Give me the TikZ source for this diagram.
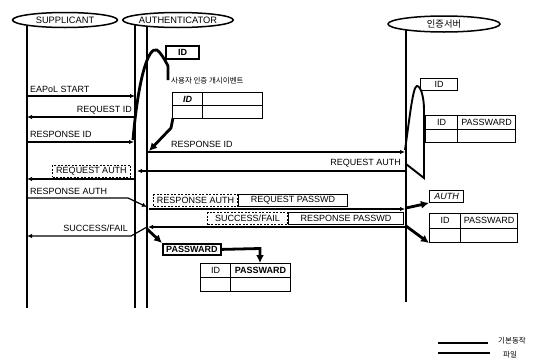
\documentclass[tikz,border=0pt]{standalone}
\usepackage{fontspec}
\setmainfont{Liberation Sans}
\newfontfamily\kr{Noto Sans CJK KR}
\usetikzlibrary{shapes.geometric,arrows.meta}
\begin{document}
\begin{tikzpicture}[x=1pt,y=-1pt,
  every node/.style={font=\fontsize{9}{10}\selectfont},
  head/.style={ellipse,draw,line width=1.5pt,inner sep=0pt,minimum height=15pt,font=\fontsize{9.3}{11}\selectfont},
  life/.style={line width=1.6pt},
  msg/.style={line width=1.2pt,-{Latex[length=5pt,width=4.5pt]}},
  heavy/.style={line width=2.8pt,-{Latex[length=8pt,width=8pt]}},
  heavyline/.style={line width=2.8pt},
  bump/.style={line width=1.9pt},
  cell/.style={draw,line width=1pt,inner sep=0pt,anchor=north west},
  lbl/.style={inner sep=1pt},
  dbox/.style={draw,dash pattern=on 2pt off 1.5pt,line width=1pt,inner sep=1.5pt,minimum height=12pt},
  sbox/.style={draw,line width=1pt,inner sep=1pt,minimum height=12pt},
  krlbl/.style={font=\kr\fontsize{7.5}{9}\selectfont,inner sep=1pt}
]
\useasboundingbox (0,0) rectangle (540,362);

% lifeline heads
\node[head,minimum width=105pt] (sup) at (65,20) {SUPPLICANT};
\node[head,minimum width=110pt] (auth) at (178,20) {AUTHENTICATOR};
\node[head,minimum width=112pt,minimum height=16pt] (srv) at (444,24) {\kr 인증서버};

% lifelines
\coordinate (sT) at (27,25); \coordinate (sB) at (27,308);
\coordinate (aT) at (135,25); \coordinate (aB) at (135,308);
\coordinate (bT) at (147,26); \coordinate (bB) at (147,308);
\coordinate (vT) at (406,30); \coordinate (vB) at (406,302);
\draw[life] (sT) -- (sB);
\draw[life] (aT) -- (aB);
\draw[life] (bT) -- (bB);
\draw[life] (vT) -- (vB);

% EAPoL START
\coordinate (m1a) at (27,96); \coordinate (m1b) at (135,96);
\draw[msg] (m1a) -- (m1b);
\node[lbl,anchor=south west] (l1) at (29,94) {EAPoL START};

% REQUEST ID
\coordinate (m2a) at (135,117); \coordinate (m2b) at (27,117);
\draw[msg] (m2a) -- (m2b);
\node[lbl,anchor=south east] (l2) at (133,115) {REQUEST ID};

% RESPONSE ID (supplicant -> authenticator)
\coordinate (m3a) at (27,142); \coordinate (m3b) at (134,142);
\draw[msg] (m3a) -- (m3b);
\node[lbl,anchor=south west] (l3) at (29,139) {RESPONSE ID};

% RESPONSE ID (authenticator -> server)
\coordinate (m4a) at (148,152); \coordinate (m4b) at (405,152);
\draw[msg] (m4a) -- (m4b);
\node[lbl,anchor=south west] (l4) at (170,149) {RESPONSE ID};

% REQUEST AUTH (server -> authenticator)
\coordinate (m5a) at (406,171); \coordinate (m5b) at (137,171);
\draw[msg] (m5a) -- (m5b);
\node[lbl,anchor=south east] (l5) at (402,168) {REQUEST AUTH};

% REQUEST AUTH (authenticator -> supplicant)
\coordinate (m6a) at (135,179); \coordinate (m6b) at (27,179);
\draw[msg] (m6a) -- (m6b);
\node[dbox,anchor=south east,minimum width=78pt] (l6) at (131,177.5) {REQUEST AUTH};

% RESPONSE AUTH (supplicant -> authenticator)
\coordinate (m7a) at (27,198); \coordinate (m7k) at (128,198); \coordinate (m7b) at (147,207);
\draw[msg] (m7a) -- (m7k) -- (m7b);
\node[lbl,anchor=south west] (l7) at (29,196) {RESPONSE AUTH};

% RESPONSE AUTH (authenticator -> server)
\coordinate (m8a) at (149,209); \coordinate (m8b) at (405,209);
\draw[msg] (m8a) -- (m8b);
\node[dbox,anchor=south west,minimum width=84pt] (l8) at (153,207) {RESPONSE AUTH};
\node[sbox,anchor=south west,minimum width=109pt] (l8b) at (238,207) {REQUEST PASSWD};

% SUCCESS/FAIL (server -> authenticator)
\coordinate (m9a) at (406,227); \coordinate (m9b) at (148,227);
\draw[msg] (m9a) -- (m9b);
\node[dbox,anchor=south west,minimum width=80pt] (l9) at (207,225) {SUCCESS/FAIL};
\node[sbox,anchor=south west,minimum width=115pt] (l9b) at (288,225) {RESPONSE PASSWD};

% SUCCESS/FAIL (authenticator -> supplicant)
\coordinate (m10a) at (147,227); \coordinate (m10k) at (131,236); \coordinate (m10b) at (27,236);
\draw[msg] (m10a) -- (m10k) -- (m10b);
\node[lbl,anchor=south east] (l10) at (129,233) {SUCCESS/FAIL};

% ---- authenticator: start event ----
\node[cell,line width=2.2pt,minimum width=33pt,minimum height=13pt,font=\fontsize{9}{10}\selectfont\bfseries] (aid) at (165,45) {ID};
\coordinate (c0) at (133,140); \coordinate (cpk) at (157,50); \coordinate (c1) at (168,66); \coordinate (c2) at (168,80);
\draw[heavyline] (c0) .. controls (138,80) and (148,46) .. (cpk) .. controls (161,53) and (165,60) .. (c1) -- (c2);
\node[krlbl,anchor=west] (evt) at (170,81) {사용자 인증 개시이벤트};
\node[cell,minimum width=30pt,minimum height=13pt,font=\fontsize{9}{10}\selectfont\bfseries\itshape] (at1) at (172,92) {ID};
\node[cell,minimum width=60pt,minimum height=13pt] (at2) at (202,92) {};
\node[cell,minimum width=30pt,minimum height=13pt] (at3) at (172,105) {};
\node[cell,minimum width=60pt,minimum height=13pt] (at4) at (202,105) {};
\coordinate (t0) at (173,118); \coordinate (t1) at (171,128); \coordinate (t2) at (149,151);
\draw[heavy] (t0) -- (t1) -- (t2);

% ---- server: ID lookup ----
\node[cell,minimum width=37pt,minimum height=12pt] (sid) at (420,78) {ID};
\coordinate (b0) at (405,150); \coordinate (bpk) at (417,86); \coordinate (b1) at (424,110);
\coordinate (b2) at (424,178); \coordinate (b3) at (406,164);
\draw[bump] (b0) .. controls (410,115) and (413,86) .. (bpk) .. controls (421,86) and (424,98) .. (b1) -- (b2) -- (b3);
\node[cell,minimum width=32pt,minimum height=13.5pt] (st1) at (425,115) {ID};
\node[cell,minimum width=58pt,minimum height=13.5pt] (st2) at (457,115) {PASSWARD};
\node[cell,minimum width=32pt,minimum height=13.5pt] (st3) at (425,128.5) {};
\node[cell,minimum width=58pt,minimum height=13.5pt] (st4) at (457,128.5) {};

% ---- server: AUTH check ----
\node[cell,minimum width=34pt,minimum height=12pt,font=\fontsize{9}{10}\selectfont\itshape] (sauth) at (429,190) {AUTH};
\coordinate (h0) at (406,208);
\draw[heavy] (h0) -- (sauth.south west);
\node[cell,minimum width=31pt,minimum height=14.5pt] (su1) at (429,213) {ID};
\node[cell,minimum width=57pt,minimum height=14.5pt] (su2) at (460,213) {PASSWARD};
\node[cell,minimum width=31pt,minimum height=14.5pt] (su3) at (429,227.5) {};
\node[cell,minimum width=57pt,minimum height=14.5pt] (su4) at (460,227.5) {};
\coordinate (h1) at (406,226);
\draw[heavy] (h1) -- (su3.south west);

% ---- authenticator: PASSWARD ----
\node[cell,line width=1.8pt,minimum width=58pt,minimum height=11pt,font=\fontsize{9}{10}\selectfont\bfseries] (apw) at (162,243) {PASSWARD};
\coordinate (p0) at (147,229);
\draw[heavy] (p0) -- (apw.north west);
\node[cell,minimum width=30pt,minimum height=14pt] (pt1) at (200,263) {ID};
\node[cell,minimum width=60pt,minimum height=14pt,font=\fontsize{9}{10}\selectfont\bfseries] (pt2) at (230,263) {PASSWARD};
\node[cell,minimum width=30pt,minimum height=14pt] (pt3) at (200,277) {};
\node[cell,minimum width=60pt,minimum height=14pt] (pt4) at (230,277) {};
\coordinate (pk) at (260,248.5);
\draw[heavy] (apw.east) -- (pk) -- (pt2.north -| pk);

% ---- legend ----
\coordinate (g0) at (438,343); \coordinate (g1) at (488,343);
\coordinate (g2) at (438,353); \coordinate (g3) at (490,353);
\draw[line width=1.2pt] (g0) -- (g1);
\draw[line width=2.8pt] (g2) -- (g3);
\node[krlbl,anchor=west] (lg1) at (497,341) {기본동작};
\node[krlbl,anchor=west] (lg2) at (502,355) {파일};
\end{tikzpicture}
\end{document}
